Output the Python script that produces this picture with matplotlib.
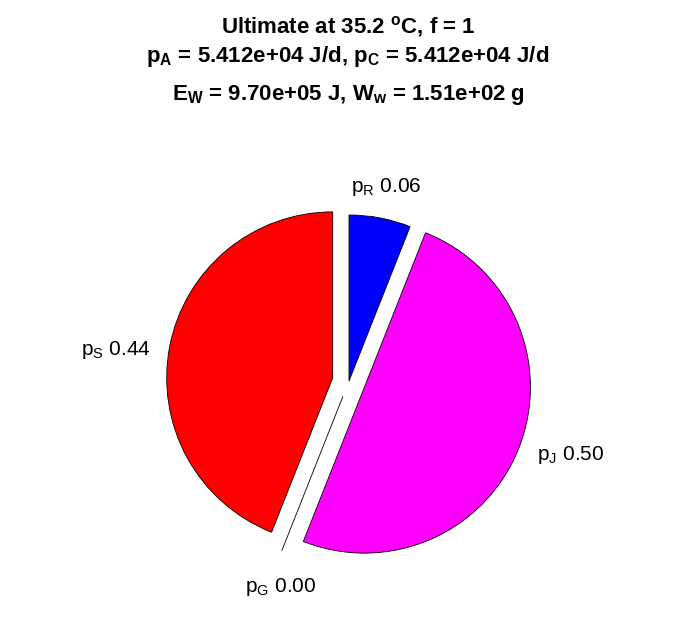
import numpy as np
import matplotlib
matplotlib.use("Agg")
import matplotlib.pyplot as plt

plt.rcParams['font.family'] = ['Liberation Sans', 'DejaVu Sans']
plt.rcParams['mathtext.fontset'] = 'custom'
plt.rcParams['mathtext.rm'] = 'Liberation Sans'
plt.rcParams['mathtext.it'] = 'Liberation Sans:italic'
plt.rcParams['mathtext.bf'] = 'Liberation Sans:bold'

# slices counterclockwise from the top (MATLAB pie order)
names = ['S', 'G', 'J', 'R']
fractions = [0.44, 0.00, 0.50, 0.06]
explode = [0.1, 0.1, 0.1, 0.0]
colors = ['#ff0000', '#ffffff', '#ff00ff', '#0000ff']

title_lines = [
    r'Ultimate at 35.2 $^{\mathbf{o}}$C, f = 1',
    r'p$_{\mathbf{A}}$ = 5.412e+04 J/d, p$_{\mathbf{C}}$ = 5.412e+04 J/d',
    r'E$_{\mathbf{W}}$ = 9.70e+05 J, W$_{\mathbf{w}}$ = 1.51e+02 g',
]

W, H = 696, 618
cx, cy, R = 349, 381, 166   # pie centre / radius in pixels (from top)

# nudges (points) so the labels sit like MATLAB's
label_nudge = {'S': (-15, -7), 'G': (8, -4), 'J': (15, 4), 'R': (0, -1)}

fig = plt.figure(figsize=(W / 100, H / 100), dpi=100)
ax = fig.add_axes([0, 0, 1, 1])

wedges, _ = ax.pie(fractions, explode=explode, colors=colors, startangle=90,
                   counterclock=True, radius=1,
                   wedgeprops=dict(edgecolor='black', linewidth=0.6))

# pie() resets the limits, so set them afterwards
ax.set_xlim(-cx / R, (W - cx) / R)
ax.set_ylim(-(H - cy) / R, cy / R)
ax.set_aspect('equal')
ax.axis('off')

# labels at 1.2 radius from each (exploded) slice centre
for w, n, f in zip(wedges, names, fractions):
    th = np.deg2rad(0.5 * (w.theta1 + w.theta2))
    x0, y0 = w.center
    xt = x0 + 1.2 * np.cos(th)
    yt = y0 + 1.2 * np.sin(th)
    ax.annotate('p$_{\\mathrm{%s}}$ %.2f' % (n, f), (xt, yt),
                xytext=label_nudge[n], textcoords='offset points',
                ha='center', va='center', fontsize=15)

for line, ybase in zip(title_lines, [33, 62, 100]):
    fig.text(0.5, 1 - ybase / H, line, ha='center', va='baseline',
             fontsize=16, fontweight='bold')

fig.savefig('out.png', dpi=100)
